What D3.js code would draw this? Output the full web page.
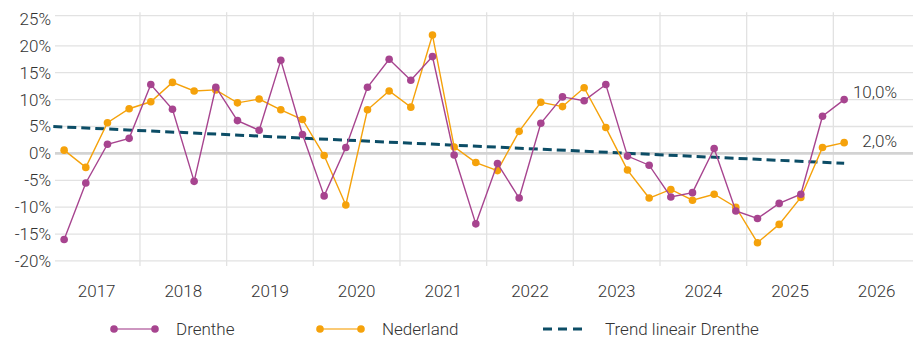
<!DOCTYPE html>
<html>
<head>
<meta charset="utf-8">
<script src="https://cdn.jsdelivr.net/npm/d3@7"></script>
<style>
  html, body { margin: 0; padding: 0; background: #fff; }
  svg { display: block; font-family: Roboto, 'Noto Sans', sans-serif; font-weight: 300; }
</style>
</head>
<body>
<div id="chart"></div>
<script>
// quarterly change (%), 2017 Q1 .. 2026 Q1
const drenthe = [
  -16.0, -5.5, 1.7, 2.8,
  12.8, 8.2, -5.2, 12.3,
  6.1, 4.3, 17.3, 3.5,
  -7.9, 1.1, 12.3, 17.5,
  13.6, 18.0, -0.3, -13.1,
  -1.9, -8.3, 5.6, 10.5,
  9.8, 12.8, -0.5, -2.2,
  -8.1, -7.3, 0.9, -10.7,
  -12.1, -9.3, -7.6, 6.9,
  10.0,
];
const nederland = [
  0.6, -2.6, 5.7, 8.3,
  9.6, 13.2, 11.6, 11.8,
  9.4, 10.1, 8.1, 6.3,
  -0.4, -9.6, 8.1, 11.6,
  8.6, 22.0, 1.2, -1.7,
  -3.2, 4.1, 9.5, 8.7,
  12.2, 4.8, -3.1, -8.3,
  -6.7, -8.7, -7.6, -10.0,
  -16.6, -13.2, -8.2, 1.1,
  2.0,
];
const trendEnds = [5.0, -1.85]; // linear trend Drenthe: start of 2017 .. last quarter
const years = [2017, 2018, 2019, 2020, 2021, 2022, 2023, 2024, 2025, 2026];
const yTicks = [-20, -15, -10, -5, 0, 5, 10, 15, 20, 25];
const series = [
  { name: 'Nederland', values: nederland, color: '#f5a20b' },
  { name: 'Drenthe', values: drenthe, color: '#a7448f' },
];
const legendItems = [
  { name: 'Drenthe', color: '#a7448f', type: 'line' },
  { name: 'Nederland', color: '#f5a20b', type: 'line' },
  { name: 'Trend lineair Drenthe', color: '#0c4d66', type: 'dash' },
];

const width = 913;
const height = 337;
const fmt = v => `${v.toFixed(1).replace('.', ',')}%`;

const svg = d3.select('#chart').append('svg')
  .attr('width', width)
  .attr('height', height);

const x = d3.scaleLinear().domain([2017, 2027]).range([53.3, 920]);
const y = d3.scaleLinear().domain([-20.1, 25.6]).range([261.5, 15.7]);
const qx = i => x(2017 + (i + 0.5) / 4);

const grid = svg.append('g');
// horizontal grid
grid.selectAll('line.h')
  .data(yTicks.filter(d => d !== 25 && d !== 0).concat([y.domain()[1]]))
  .enter().append('line')
  .attr('x1', 55).attr('x2', width)
  .attr('y1', d => y(d)).attr('y2', d => y(d))
  .style('stroke', '#e2e2e2')
  .style('stroke-width', 1.3);
// year separators
grid.selectAll('line.v')
  .data(years.slice(1))
  .enter().append('line')
  .attr('x1', d => x(d)).attr('x2', d => x(d))
  .attr('y1', y.range()[1] - 3.5).attr('y2', y.range()[0] + 4.5)
  .style('stroke', '#e2e2e2')
  .style('stroke-width', 1.3);
// zero line
grid.append('line')
  .attr('x1', 55).attr('x2', width)
  .attr('y1', y(0)).attr('y2', y(0))
  .style('stroke', '#d3d3d3')
  .style('stroke-width', 2.6);

// y labels
svg.append('g').selectAll('text')
  .data(yTicks).enter().append('text')
  .attr('x', 51)
  .attr('y', d => y(d))
  .attr('dy', '0.35em')
  .attr('text-anchor', 'end')
  .style('font-size', '17px')
  .style('fill', '#333')
  .text(d => `${d}%`);

// x labels
svg.append('g').selectAll('text')
  .data(years).enter().append('text')
  .attr('x', d => x(d + 0.5))
  .attr('y', 297)
  .attr('text-anchor', 'middle')
  .style('font-size', '17px')
  .style('fill', '#333')
  .text(d => d);

// trend
const lastIdx = drenthe.length - 1;
svg.append('line')
  .attr('x1', x(2017)).attr('y1', y(trendEnds[0]))
  .attr('x2', qx(lastIdx)).attr('y2', y(trendEnds[1]))
  .style('stroke', '#0c4d66')
  .style('stroke-width', 3)
  .style('stroke-dasharray', '9,5');

const line = d3.line().x((d, i) => qx(i)).y(d => y(d));

series.forEach((s) => {
  const g = svg.append('g');
  g.append('path')
    .datum(s.values)
    .attr('d', line)
    .style('fill', 'none')
    .style('stroke', s.color)
    .style('stroke-width', 1.4);
  g.selectAll('circle')
    .data(s.values).enter().append('circle')
    .attr('cx', (d, i) => qx(i))
    .attr('cy', d => y(d))
    .attr('r', 3.8)
    .style('fill', s.color);
});

// end labels
const endOffsets = { Drenthe: -8, Nederland: -1.5 };
series.forEach((s) => {
  const v = s.values[s.values.length - 1];
  svg.append('text')
    .attr('x', 897)
    .attr('y', y(v) + endOffsets[s.name])
    .attr('dy', '0.35em')
    .attr('text-anchor', 'end')
    .style('font-size', '17px')
    .style('fill', '#333')
    .text(fmt(v));
});

// legend
const legendX = [114, 320, 543];
const legend = svg.append('g');
legendItems.forEach((item, i) => {
  const lg = legend.append('g').attr('transform', `translate(${legendX[i]},329)`);
  if (item.type === 'line') {
    lg.append('line').attr('x1', 0).attr('x2', 41)
      .style('stroke', item.color).style('stroke-width', 1.5)
      .style('stroke-opacity', 0.75);
    lg.selectAll('circle').data([0, 41]).enter().append('circle')
      .attr('cx', d => d).attr('r', 3.8).style('fill', item.color);
  } else {
    lg.append('line').attr('x1', 0).attr('x2', 40)
      .style('stroke', item.color).style('stroke-width', 3)
      .style('stroke-dasharray', '9,6');
  }
  lg.append('text')
    .attr('x', 62)
    .attr('dy', '0.35em')
    .style('font-size', '17px')
    .style('fill', '#333')
    .text(item.name);
});
</script>
</body>
</html>
